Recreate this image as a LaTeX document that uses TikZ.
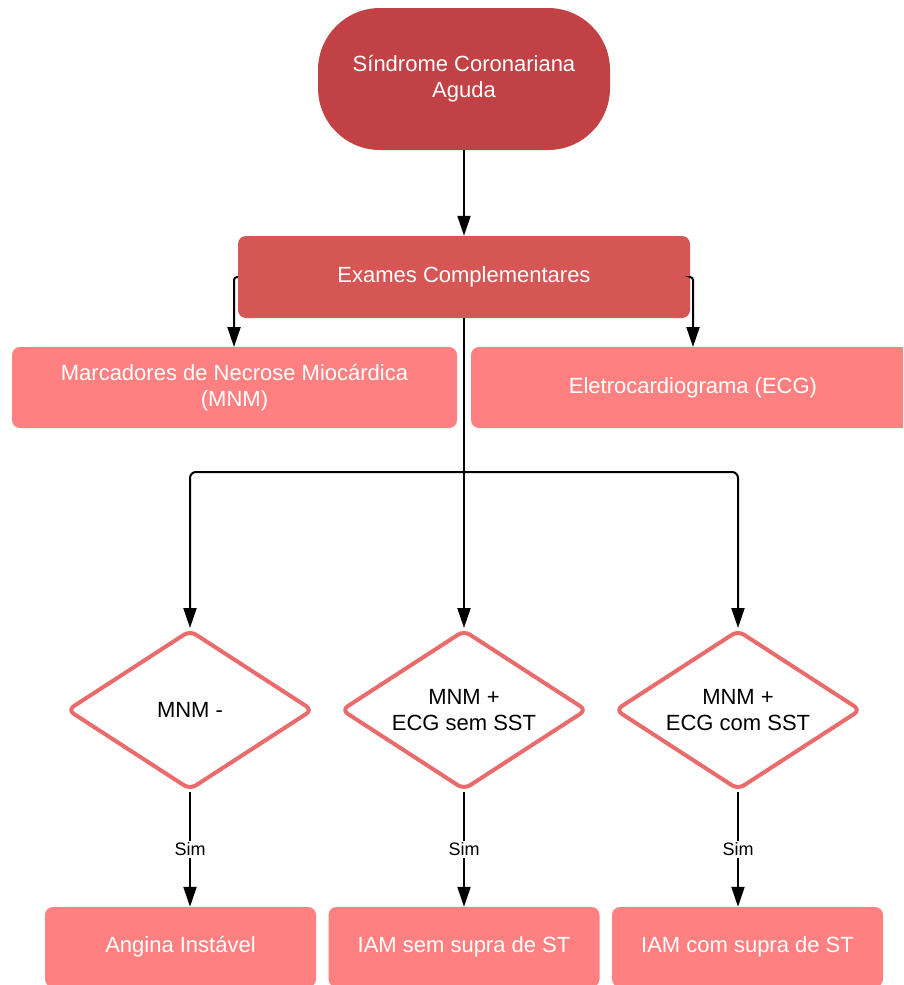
\documentclass[tikz,border=0pt]{standalone}
\usepackage{fontspec}
\setmainfont{Liberation Sans}
\usetikzlibrary{arrows.meta,shapes.geometric,calc}
\definecolor{cTop}{HTML}{C24144}
\definecolor{cExam}{HTML}{D65656}
\definecolor{cLight}{HTML}{FF8080}
\definecolor{cDia}{HTML}{E96B6B}
\begin{document}
\begin{tikzpicture}[x=1pt,y=-1pt,
  txt/.style={font=\fontsize{22}{26}\selectfont, align=center, text=white},
  topbox/.style={txt, fill=cTop, rounded corners=62pt, minimum width=292pt, minimum height=142pt, inner sep=0pt},
  exambox/.style={txt, fill=cExam, rounded corners=8pt, minimum width=452pt, minimum height=82pt, inner sep=0pt},
  lightbox/.style={txt, fill=cLight, rounded corners=8pt, minimum height=81pt, inner sep=0pt},
  resbox/.style={txt, fill=cLight, rounded corners=8pt, minimum width=271pt, minimum height=80pt, inner sep=0pt},
  dia/.style={diamond, aspect=1.54, draw=cDia, line width=4pt, fill=white, rounded corners=7pt, minimum width=246pt, minimum height=160pt, inner sep=0pt, font=\fontsize{22}{26}\selectfont, align=center, text=black},
  conn/.style={line width=2pt, -{Triangle[width=13pt,length=20pt]}},
  plain/.style={line width=2pt},
  simlbl/.style={fill=white, font=\fontsize{18}{20}\selectfont, inner sep=2pt}
]
\useasboundingbox (0,0) rectangle (903,985);
\clip (0,0) rectangle (903,985);

\node[topbox] (top) at (464,79) {Síndrome Coronariana\\Aguda};
\node[exambox] (exam) at (464,277) {Exames Complementares};
\node[lightbox, minimum width=445pt] (mnm) at (234.5,387.5) {Marcadores de Necrose Miocárdica\\(MNM)};
\node[lightbox, minimum width=444pt] (ecg) at (693,387.5) {Eletrocardiograma (ECG)};

\node[dia] (d1) at (190,710) {MNM -};
\node[dia] (d2) at (464,710) {MNM +\\ECG sem SST};
\node[dia] (d3) at (738,710) {MNM +\\ECG com SST};

\node[resbox] (r1) at (180.5,947) {Angina Instável};
\node[resbox] (r2) at (464,947) {IAM sem supra de ST};
\node[resbox] (r3) at (747.5,947) {IAM com supra de ST};

\coordinate (mnmin) at (234,347);
\coordinate (ecgin) at (693,347);
\coordinate (split) at (464,472);

\draw[conn] (top.south) -- (exam.north);
\draw[conn, rounded corners=3pt] (exam.west) -| (mnmin);
\draw[conn, rounded corners=3pt] (exam.east) -| (ecgin);
\draw[plain] (exam.south) -- (split);
\draw[conn, rounded corners=6pt] (split) -| (d1.north);
\draw[conn, rounded corners=6pt] (split) -| (d3.north);
\draw[conn] (split) -- (d2.north);

\draw[conn] (d1.south) -- (d1.south |- r1.north) node[simlbl, pos=0.5] (s1) {Sim};
\draw[conn] (d2.south) -- (d2.south |- r2.north) node[simlbl, pos=0.5] (s2) {Sim};
\draw[conn] (d3.south) -- (d3.south |- r3.north) node[simlbl, pos=0.5] (s3) {Sim};
\end{tikzpicture}
\end{document}
